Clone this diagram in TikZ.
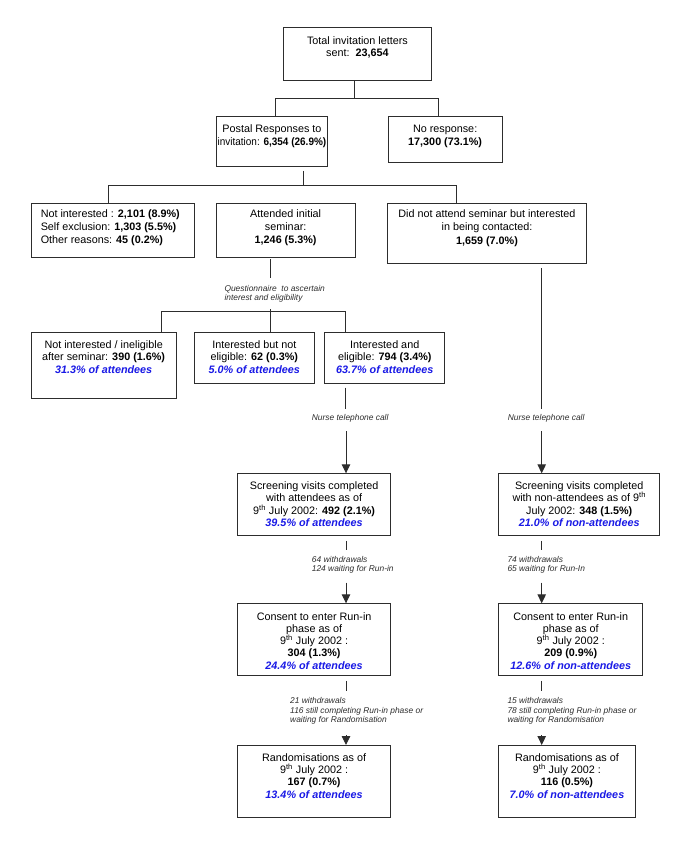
\documentclass[tikz,border=0pt]{standalone}
\usepackage{fontspec}
\setmainfont{Liberation Sans}
\usetikzlibrary{arrows.meta}
\definecolor{ln}{RGB}{45,45,45}
\definecolor{bluetxt}{RGB}{25,25,230}
\definecolor{lbltxt}{RGB}{45,45,45}
% #1 line spacing, #2 width, #3 height, #4 first-baseline depth, #5 content
\newcommand\bt[5][12.5]{\parbox[t][#3pt][t]{#2pt}{\centering\setlength\baselineskip{#1pt}\rule{0pt}{#4pt}#5}}
\newcommand\bluet[1]{\textcolor{bluetxt}{\bfseries\itshape #1}}
\newcommand\thsup{\textsuperscript{th}}
\begin{document}
\begin{tikzpicture}[x=1pt,y=-1pt,
  box/.style={draw=ln, line width=0.9pt, inner sep=0pt, anchor=north west,
    font=\fontsize{10.8}{12.5}\selectfont},
  lbl/.style={inner sep=0pt, anchor=north west, align=left, text=lbltxt,
    font=\fontsize{8.4}{9.6}\selectfont\itshape},
  conn/.style={draw=ln, line width=0.9pt},
  arr/.style={conn, -{Triangle[width=8.5pt,length=9pt]}}]
\fill[white] (0,0) rectangle (685,856);
\useasboundingbox (0,0) rectangle (685,856);

% boxes
\node[box] (T) at (283.3,27.3) {\bt{147.4}{52.7}{16.6}{Total invitation letters\\sent:\ \ \textbf{23,654}}};
\node[box] (P) at (215.7,115.7) {\bt{111.6}{50.3}{16.5}{Postal Responses to\\\makebox[111.6pt]{\scalebox{0.925}[1]{invitation: \textbf{6,354 (26.9\%)}}}}};
\node[box] (N) at (387.7,115.7) {\bt{114}{46}{16.5}{No response:\\\textbf{17,300 (73.1\%)}}};

\node[box] (B1) at (30.7,202.7) {\bt[13]{163.6}{54}{14.5}{\raggedright\leftskip=9.6pt Not interested : \textbf{2,101 (8.9\%)}\\Self exclusion: \textbf{1,303 (5.5\%)}\\Other reasons: \textbf{45 (0.2\%)}}};
\node[box] (B2) at (215.7,202.7) {\bt[13]{139}{54}{14.5}{Attended initial\\seminar:\\\textbf{1,246 (5.3\%)}}};
\node[box] (B3) at (387.3,202.7) {\bt[13.3]{198.4}{60.6}{14.5}{Did not attend seminar but interested\\in being contacted:\\\textbf{1,659 (7.0\%)}}};

\node[box] (B4) at (30.7,332.3) {\bt{145}{66}{15.6}{Not interested / ineligible\\after seminar: \textbf{390 (1.6\%)}\\\bluet{31.3\% of attendees}}};
\node[box] (B5) at (194,332.3) {\bt{119.7}{51}{15.6}{Interested but not\\eligible: \textbf{62 (0.3\%)}\\\bluet{5.0\% of attendees}}};
\node[box] (B6) at (324.3,332.3) {\bt{120}{51}{15.6}{Interested and\\eligible: \textbf{794 (3.4\%)}\\\bluet{63.7\% of attendees}}};

\node[box] (S1) at (237.3,473.3) {\bt[12.3]{152.7}{61.7}{15.9}{Screening visits completed\\with attendees as of\\9\thsup{} July 2002: \textbf{492 (2.1\%)}\\\bluet{39.5\% of attendees}}};
\node[box] (S2) at (498.3,473.3) {\bt[12.3]{161}{61.7}{15.9}{Screening visits completed\\with non-attendees as of 9\thsup\\July 2002: \textbf{348 (1.5\%)}\\\bluet{21.0\% of non-attendees}}};

\node[box] (C1) at (237.3,603.3) {\bt[12.3]{152.7}{71.7}{16.3}{Consent to enter Run-in\\phase as of\\9\thsup{} July 2002 :\\\textbf{304 (1.3\%)}\\\bluet{24.4\% of attendees}}};
\node[box] (C2) at (498.3,603.3) {\bt[12.3]{144}{71.7}{16.3}{Consent to enter Run-in\\phase as of\\9\thsup{} July 2002 :\\\textbf{209 (0.9\%)}\\\bluet{12.6\% of non-attendees}}};

\node[box] (R1) at (237.3,745) {\bt[12.4]{152.7}{71.7}{15.6}{Randomisations as of\\9\thsup{} July 2002 :\\\textbf{167 (0.7\%)}\\\bluet{13.4\% of attendees}}};
\node[box] (R2) at (498.3,745) {\bt[12.4]{136.4}{71.7}{15.6}{Randomisations as of\\9\thsup{} July 2002 :\\\textbf{116 (0.5\%)}\\\bluet{7.0\% of non-attendees}}};

% labels
\node[lbl] (Q) at (224.3,284.8) {Questionnaire~ to ascertain\\interest and eligibility};
\node[lbl] (NL) at (311.7,414.5) {Nurse telephone call};
\node[lbl] (NR) at (507.7,414.5) {Nurse telephone call};
\node[lbl] (W1) at (311.7,555.8) {64 withdrawals\\124 waiting for Run-in};
\node[lbl] (W2) at (507.3,555.8) {74 withdrawals\\65 waiting for Run-In};
\node[lbl] (W3) at (290,697.2) {21 withdrawals\\116 still completing Run-in phase or\\waiting for Randomisation};
\node[lbl] (W4) at (507.3,697.2) {15 withdrawals\\78 still completing Run-in phase or\\waiting for Randomisation};

% junction coordinates
\coordinate (j1) at (354,98.3);
\coordinate (j1l) at (275.7,98.3);
\coordinate (j1r) at (438.7,98.3);
\coordinate (j2) at (303.7,185);
\coordinate (j2l) at (108.3,185);
\coordinate (j2r) at (456.7,185);
\coordinate (q1) at (270,278.3);
\coordinate (q2) at (270,309.3);
\coordinate (j3l) at (161.7,311);
\coordinate (j3r) at (345.7,311);
\coordinate (l1) at (345.7,409.3);
\coordinate (r1) at (541.7,409.3);
\coordinate (a1) at (346,431);
\coordinate (a2) at (541.7,431);
\coordinate (s1) at (346,550);
\coordinate (s2) at (541.7,550);
\coordinate (t1) at (346,582.7);
\coordinate (t2) at (541.7,582.7);
\coordinate (u1) at (346,690.7);
\coordinate (u2) at (541.7,690.7);
\coordinate (v1) at (346,735);
\coordinate (v2) at (541.7,735);

% connectors
\path[conn] (T.south -| j1) -- (j1);
\path[conn] (j1l |- P.north) -- (j1l) -- (j1r) -- (j1r |- N.north);
\path[conn] ([yshift=-4pt]P.south -| j2) -- (j2);
\path[conn] (j2l |- B1.north) -- (j2l) -- (j2r) -- (j2r |- B3.north);
\path[conn] ([yshift=-1.6pt]B2.south -| q1) -- (q1);
\path[conn] (q2) -- (q2 |- B5.north);
\path[conn] (j3l |- B4.north) -- (j3l) -- (j3r) -- (j3r |- B6.north);
\path[conn] ([yshift=-3.4pt]B6.south -| l1) -- (l1);
\path[conn] ([yshift=-4pt]B3.south -| r1) -- (r1);
\path[arr] (a1) -- (a1 |- S1.north);
\path[arr] (a2) -- (a2 |- S2.north);
\path[conn] ([yshift=-5pt]S1.south -| s1) -- (s1);
\path[conn] ([yshift=-5pt]S2.south -| s2) -- (s2);
\path[arr] (t1) -- (t1 |- C1.north);
\path[arr] (t2) -- (t2 |- C2.north);
\path[conn] ([yshift=-5pt]C1.south -| u1) -- (u1);
\path[conn] ([yshift=-5pt]C2.south -| u2) -- (u2);
\path[arr] (v1) -- (v1 |- R1.north);
\path[arr] (v2) -- (v2 |- R2.north);
\end{tikzpicture}
\end{document}
